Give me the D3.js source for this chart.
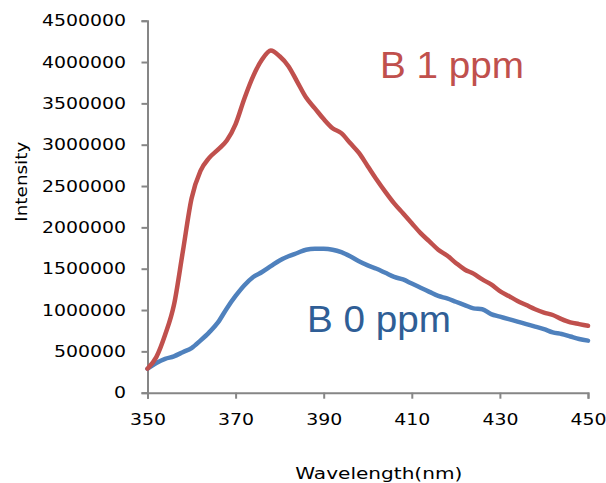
<!DOCTYPE html>
<html>
<head>
<meta charset="utf-8">
<script src="https://cdn.jsdelivr.net/npm/d3@7"></script>
<style>
  body { margin: 0; background: #fff; }
  svg { display: block; }
</style>
</head>
<body>
<div id="chart"></div>
<script>
// wavelength grid (nm) and intensities
const wavelengths = [350, 352, 354, 356, 358, 360, 362, 364, 366, 368, 370, 372, 374, 376, 378, 380,
  382, 384, 386, 388, 390, 392, 394, 396, 398, 400, 402, 404, 406, 408, 410, 412, 414, 416, 418, 420,
  422, 424, 426, 428, 430, 432, 434, 436, 438, 440, 442, 444, 446, 448, 450];

const b1ppm = [290000, 430000, 700000, 1060000, 1700000, 2350000, 2680000, 2840000, 2940000, 3050000,
  3250000, 3560000, 3830000, 4030000, 4140000, 4070000, 3950000, 3760000, 3570000, 3440000,
  3310000, 3200000, 3140000, 3020000, 2900000, 2740000, 2580000, 2430000, 2290000, 2170000,
  2050000, 1930000, 1830000, 1730000, 1660000, 1570000, 1490000, 1440000, 1370000, 1310000,
  1230000, 1170000, 1110000, 1060000, 1010000, 970000, 940000, 890000, 850000, 830000, 810000];

const b0ppm = [290000, 360000, 410000, 440000, 490000, 540000, 630000, 730000, 850000, 1020000,
  1170000, 1300000, 1400000, 1460000, 1530000, 1600000, 1650000, 1690000, 1730000, 1740000,
  1740000, 1730000, 1700000, 1650000, 1590000, 1540000, 1500000, 1450000, 1400000, 1370000,
  1320000, 1270000, 1220000, 1170000, 1140000, 1100000, 1060000, 1020000, 1010000, 950000,
  920000, 890000, 860000, 830000, 800000, 770000, 730000, 710000, 680000, 650000, 630000];

const xTicks = [350, 370, 390, 410, 430, 450];
const yTicks = [0, 500000, 1000000, 1500000, 2000000, 2500000, 3000000, 3500000, 4000000, 4500000];

const seriesNames = ["B 1 ppm", "B 0 ppm"];
const labelAt = [[402.8, 3810000], [386.2, 738000]];

const margin = { top: 20.7, right: 18, bottom: 90.3, left: 147.5 },
  width = 606 - margin.left - margin.right,
  height = 483 - margin.top - margin.bottom;

const svg = d3
  .select("#chart")
  .append("svg")
  .attr("width", 606)
  .attr("height", 483)
  .append("g")
  .attr("transform", "translate(" + margin.left + "," + margin.top + ")");

const x = d3.scaleLinear().domain([350, 450]).range([0, width]);
const y = d3.scaleLinear().domain([0, 4500000]).range([height, 0]);

const axisColor = "#868686";
const numFont = "'DejaVu Sans', Verdana, sans-serif";

const yAxis = svg
  .append("g")
  .call(d3.axisLeft(y).tickValues(yTicks).tickSizeOuter(0).tickSize(6).tickPadding(15.5)
    .tickFormat(d3.format("d")));

const xAxis = svg
  .append("g")
  .attr("transform", "translate(0," + height + ")")
  .call(d3.axisBottom(x).tickValues(xTicks).tickSizeOuter(0).tickSize(6).tickPadding(14.5));

[yAxis, xAxis].forEach(function (g) {
  g.select(".domain").attr("stroke", axisColor).attr("stroke-width", 2);
  g.selectAll(".tick line").attr("stroke", axisColor).attr("stroke-width", 2);
  g.selectAll(".tick text")
    .attr("fill", "#000")
    .style("font-family", numFont)
    .style("font-size", "16px")
    .attr("textLength", function () {
      return 12 * this.textContent.length;
    })
    .attr("lengthAdjust", "spacingAndGlyphs");
});

const color = d3.scaleOrdinal().domain(seriesNames).range(["#C0504D", "#4F81BD"]);
const labelColor = d3.scaleOrdinal().domain(seriesNames).range(["#C0504D", "#2F5E96"]);

const line = d3
  .line()
  .x(function (d) { return x(d[0]); })
  .y(function (d) { return y(d[1]); })
  .curve(d3.curveMonotoneX);

[b0ppm, b1ppm].forEach(function (vals, i) {
  const name = i === 0 ? "B 0 ppm" : "B 1 ppm";
  svg
    .append("path")
    .datum(wavelengths.map(function (w, j) { return [w, vals[j]]; }))
    .attr("fill", "none")
    .attr("stroke", color(name))
    .attr("stroke-width", 4.5)
    .attr("stroke-linejoin", "round")
    .attr("stroke-linecap", "round")
    .attr("d", line);
});

svg
  .selectAll(".serieslabel")
  .data(seriesNames)
  .enter()
  .append("text")
  .attr("class", "serieslabel")
  .attr("x", function (d, i) { return x(labelAt[i][0]); })
  .attr("y", function (d, i) { return y(labelAt[i][1]); })
  .attr("fill", function (d) { return labelColor(d); })
  .style("font-family", "'Liberation Sans', Arial, sans-serif")
  .style("font-size", "36px")
  .attr("textLength", 144)
  .attr("lengthAdjust", "spacingAndGlyphs")
  .text(function (d) { return d; });

svg
  .append("text")
  .attr("text-anchor", "middle")
  .attr("transform", "rotate(-90)")
  .attr("x", -(181.7 - margin.top))
  .attr("y", -margin.left + 27)
  .style("font-family", numFont)
  .style("font-size", "15px")
  .attr("textLength", 80)
  .attr("lengthAdjust", "spacingAndGlyphs")
  .text("Intensity");

svg
  .append("text")
  .attr("text-anchor", "middle")
  .attr("x", 378.8 - margin.left)
  .attr("y", height + 86.5)
  .style("font-family", numFont)
  .style("font-size", "16px")
  .attr("textLength", 167)
  .attr("lengthAdjust", "spacingAndGlyphs")
  .text("Wavelength(nm)");
</script>
</body>
</html>
